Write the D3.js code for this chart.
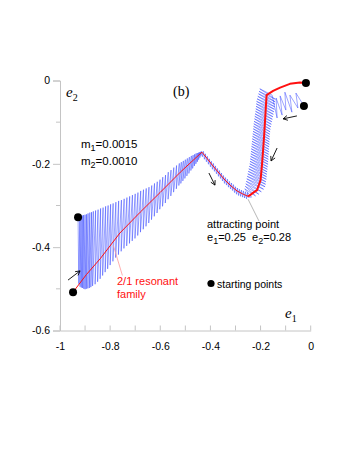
<!DOCTYPE html>
<html>
<head>
<meta charset="utf-8">
<script src="https://cdn.jsdelivr.net/npm/d3@7/dist/d3.min.js"></script>
<style>
  body { margin: 0; background: #fff; }
  text { font-family: "Liberation Sans", Arial, sans-serif; }
  .serif { font-family: "Liberation Serif", "Times New Roman", serif; }
</style>
</head>
<body>
<script>
// tick values
var xTicks = [-1, -0.8, -0.6, -0.4, -0.2, 0];
var yTicks = [0, -0.2, -0.4, -0.6];
var xMinor = [-0.9, -0.7, -0.5, -0.3, -0.1];
var yMinor = [-0.1, -0.3, -0.5];

// starting points (e1, e2)
var startPoints = [[-0.928, -0.328], [-0.948, -0.508], [-0.019, -0.006], [-0.027, -0.061]];

// 2/1 resonant family (red), thin and thick parts
var familyThin = [[-0.948, -0.508], [-0.895, -0.466], [-0.840, -0.428], [-0.761, -0.366], [-0.680, -0.316],
  [-0.601, -0.269], [-0.520, -0.220], [-0.434, -0.172], [-0.412, -0.188], [-0.390, -0.205], [-0.366, -0.222],
  [-0.342, -0.239], [-0.318, -0.253], [-0.294, -0.265], [-0.272, -0.272], [-0.250, -0.278]];
var familyThick = [[-0.250, -0.278], [-0.242, -0.275], [-0.226, -0.268], [-0.214, -0.263], [-0.200, -0.239],
  [-0.194, -0.200], [-0.189, -0.160], [-0.185, -0.125], [-0.182, -0.095], [-0.179, -0.065], [-0.176, -0.035],
  [-0.150, -0.025], [-0.122, -0.017], [-0.083, -0.008], [-0.043, -0.005], [-0.019, -0.006]];

// trajectory from the left starting point
var traj1 = [[-0.928, -0.328],
  [-0.925, -0.488], [-0.921, -0.326], [-0.920, -0.495], [-0.916, -0.325], [-0.915, -0.497], [-0.911, -0.324],
  [-0.910, -0.498], [-0.906, -0.323], [-0.905, -0.500], [-0.900, -0.322], [-0.900, -0.501], [-0.894, -0.321],
  [-0.895, -0.500], [-0.888, -0.319], [-0.889, -0.499], [-0.881, -0.317], [-0.883, -0.498], [-0.874, -0.316],
  [-0.877, -0.496], [-0.867, -0.314],
  [-0.870, -0.493], [-0.858, -0.312], [-0.860, -0.489], [-0.848, -0.310], [-0.850, -0.483], [-0.838, -0.307],
  [-0.840, -0.476], [-0.828, -0.305], [-0.830, -0.468], [-0.818, -0.302], [-0.820, -0.460], [-0.808, -0.300],
  [-0.810, -0.452], [-0.798, -0.297], [-0.800, -0.443], [-0.788, -0.295], [-0.789, -0.434], [-0.777, -0.292],
  [-0.778, -0.425], [-0.766, -0.289], [-0.767, -0.418], [-0.755, -0.287], [-0.756, -0.410], [-0.744, -0.284],
  [-0.745, -0.403], [-0.733, -0.281], [-0.734, -0.397], [-0.722, -0.278], [-0.723, -0.391], [-0.711, -0.275],
  [-0.712, -0.385], [-0.700, -0.272], [-0.701, -0.379], [-0.689, -0.269], [-0.690, -0.372], [-0.678, -0.265],
  [-0.679, -0.364], [-0.667, -0.262], [-0.668, -0.357], [-0.656, -0.259], [-0.657, -0.350], [-0.645, -0.256],
  [-0.646, -0.342], [-0.634, -0.252], [-0.635, -0.334], [-0.623, -0.247], [-0.624, -0.326], [-0.612, -0.243],
  [-0.613, -0.318], [-0.601, -0.238], [-0.602, -0.309], [-0.590, -0.232], [-0.591, -0.302], [-0.579, -0.227],
  [-0.580, -0.294], [-0.568, -0.220], [-0.569, -0.285], [-0.557, -0.215], [-0.558, -0.277], [-0.546, -0.209],
  [-0.547, -0.268], [-0.535, -0.204], [-0.536, -0.260], [-0.524, -0.199], [-0.526, -0.252], [-0.516, -0.196],
  [-0.518, -0.247], [-0.508, -0.193], [-0.510, -0.241], [-0.500, -0.190], [-0.502, -0.235], [-0.492, -0.187],
  [-0.494, -0.229], [-0.484, -0.184], [-0.486, -0.223], [-0.476, -0.181], [-0.478, -0.216], [-0.469, -0.179],
  [-0.471, -0.211], [-0.463, -0.177], [-0.464, -0.205], [-0.457, -0.175], [-0.458, -0.200], [-0.452, -0.174],
  [-0.452, -0.195], [-0.447, -0.173], [-0.447, -0.190], [-0.443, -0.172], [-0.442, -0.185], [-0.439, -0.171],
  [-0.438, -0.180], [-0.435, -0.170],
  [-0.432, -0.183], [-0.428, -0.170], [-0.424, -0.189], [-0.420, -0.176], [-0.416, -0.195], [-0.412, -0.182],
  [-0.408, -0.201], [-0.404, -0.188], [-0.400, -0.207], [-0.396, -0.194], [-0.392, -0.213], [-0.388, -0.199],
  [-0.384, -0.218], [-0.380, -0.205], [-0.376, -0.224], [-0.372, -0.211], [-0.368, -0.230], [-0.364, -0.216],
  [-0.360, -0.235], [-0.356, -0.222], [-0.352, -0.241], [-0.348, -0.228], [-0.344, -0.247], [-0.340, -0.233],
  [-0.336, -0.251], [-0.332, -0.237], [-0.328, -0.256], [-0.324, -0.242], [-0.320, -0.260], [-0.316, -0.246],
  [-0.312, -0.264], [-0.308, -0.250], [-0.304, -0.269], [-0.300, -0.255], [-0.296, -0.273], [-0.292, -0.258],
  [-0.288, -0.276], [-0.284, -0.261], [-0.280, -0.278], [-0.276, -0.263], [-0.272, -0.280], [-0.268, -0.265],
  [-0.264, -0.282], [-0.260, -0.267], [-0.256, -0.284], [-0.252, -0.269], [-0.250, -0.280]];

// trajectory from the lower right starting point
var traj2 = [[-0.027, -0.061],
  [-0.059, -0.030], [-0.051, -0.066], [-0.083, -0.035], [-0.075, -0.076], [-0.103, -0.028], [-0.099, -0.071],
  [-0.122, -0.037], [-0.114, -0.083], [-0.138, -0.042], [-0.134, -0.090], [-0.154, -0.035],
  [-0.203, -0.020], [-0.141, -0.045], [-0.206, -0.026], [-0.142, -0.051], [-0.208, -0.032], [-0.143, -0.057],
  [-0.211, -0.038], [-0.144, -0.063], [-0.214, -0.044], [-0.145, -0.069], [-0.216, -0.050], [-0.147, -0.075],
  [-0.217, -0.056], [-0.149, -0.081], [-0.218, -0.062], [-0.151, -0.087], [-0.219, -0.068], [-0.153, -0.093],
  [-0.220, -0.074], [-0.155, -0.099], [-0.222, -0.080], [-0.157, -0.105], [-0.223, -0.086], [-0.159, -0.111],
  [-0.224, -0.092], [-0.161, -0.117], [-0.226, -0.098], [-0.162, -0.123], [-0.227, -0.104], [-0.163, -0.129],
  [-0.228, -0.110], [-0.164, -0.135], [-0.229, -0.116], [-0.164, -0.141], [-0.230, -0.122], [-0.165, -0.147],
  [-0.231, -0.128], [-0.165, -0.153], [-0.232, -0.134], [-0.166, -0.159], [-0.233, -0.140], [-0.167, -0.165],
  [-0.234, -0.146], [-0.167, -0.171], [-0.235, -0.152], [-0.168, -0.177], [-0.236, -0.158], [-0.169, -0.183],
  [-0.237, -0.164], [-0.169, -0.189], [-0.238, -0.170], [-0.170, -0.195], [-0.239, -0.176], [-0.170, -0.201],
  [-0.240, -0.182], [-0.172, -0.207], [-0.241, -0.188], [-0.173, -0.213], [-0.242, -0.194], [-0.174, -0.219],
  [-0.243, -0.200], [-0.175, -0.225], [-0.245, -0.206], [-0.176, -0.231], [-0.247, -0.212], [-0.177, -0.237],
  [-0.249, -0.218], [-0.179, -0.243], [-0.251, -0.224], [-0.180, -0.249], [-0.253, -0.230], [-0.182, -0.255],
  [-0.255, -0.236], [-0.188, -0.261], [-0.257, -0.242], [-0.197, -0.267], [-0.259, -0.248], [-0.207, -0.273],
  [-0.261, -0.254], [-0.220, -0.277], [-0.263, -0.260], [-0.236, -0.280], [-0.250, -0.280]];

// arrows: [tail, head]
var arrows = [
  [[-0.968, -0.479], [-0.920, -0.457]],
  [[-0.406, -0.222], [-0.382, -0.251]],
  [[-0.055, -0.085], [-0.110, -0.092]],
  [[-0.134, -0.162], [-0.158, -0.193]]
];

var attractor = [-0.25, -0.28];

var width = 354, height = 458;

var x = d3.scaleLinear().domain([-1, 0]).range([60, 310.7]);
var y = d3.scaleLinear().domain([-0.6, 0]).range([330.5, 80.5]);

var svg = d3.select("body").append("svg")
  .attr("width", width)
  .attr("height", height);

var axisColor = "#c4c4c4";

// x axis
var gx = svg.append("g").attr("transform", "translate(0," + y(-0.6) + ")");
gx.call(d3.axisBottom(x).tickValues(xTicks).tickSize(0).tickPadding(12)
  .tickFormat(function (d) { return String(d); }));
gx.select(".domain").attr("stroke", axisColor);
gx.selectAll("text").attr("font-size", 10.5).attr("fill", "#000")
  .attr("font-family", "Liberation Sans, Arial, sans-serif");
gx.selectAll(".tk").data(xTicks.concat(xMinor)).enter().append("line")
  .attr("x1", function (d) { return x(d); }).attr("x2", function (d) { return x(d); })
  .attr("y1", 0).attr("y2", -5).attr("stroke", axisColor);

// y axis
var gy = svg.append("g").attr("transform", "translate(" + x(-1) + ",0)");
gy.call(d3.axisLeft(y).tickValues(yTicks).tickSize(7).tickPadding(3)
  .tickFormat(function (d) { return String(d); }));
gy.select(".domain").attr("stroke", axisColor);
gy.selectAll(".tick line").attr("stroke", axisColor);
gy.selectAll("text").attr("font-size", 10.5).attr("fill", "#000")
  .attr("font-family", "Liberation Sans, Arial, sans-serif");
gy.selectAll(".tk").data(yMinor).enter().append("line")
  .attr("x1", 0).attr("x2", -4)
  .attr("y1", function (d) { return y(d); }).attr("y2", function (d) { return y(d); })
  .attr("stroke", axisColor);

var line = d3.line()
  .x(function (d) { return x(d[0]); })
  .y(function (d) { return y(d[1]); });

// blue trajectories
[traj1, traj2].forEach(function (t) {
  svg.append("path").attr("d", line(t))
    .attr("fill", "none").attr("stroke", "#1f30ff")
    .attr("stroke-width", 0.55).attr("stroke-opacity", 0.8)
    .attr("stroke-linejoin", "round");
});

// red family
svg.append("path").attr("d", line(familyThin))
  .attr("fill", "none").attr("stroke", "#ff1010").attr("stroke-width", 1)
  .attr("stroke-linejoin", "round");
svg.append("path").attr("d", line(familyThick))
  .attr("fill", "none").attr("stroke", "#ff1010").attr("stroke-width", 2)
  .attr("stroke-linejoin", "round");

// pointer lines
svg.append("line")
  .attr("x1", x(attractor[0])).attr("y1", y(attractor[1]) + 2)
  .attr("x2", x(attractor[0]) + 11).attr("y2", y(attractor[1]) + 24)
  .attr("stroke", "#999").attr("stroke-width", 0.7);
svg.append("line")
  .attr("x1", x(-0.787)).attr("y1", y(-0.396))
  .attr("x2", x(-0.787) + 9).attr("y2", y(-0.396) + 30)
  .attr("stroke", "#ff9a9a").attr("stroke-width", 0.8);

// arrows
arrows.forEach(function (a) {
  var x1 = x(a[0][0]), y1 = y(a[0][1]), x2 = x(a[1][0]), y2 = y(a[1][1]);
  var ang = Math.atan2(y2 - y1, x2 - x1);
  var h = 5, s = 0.5;
  svg.append("line").attr("x1", x1).attr("y1", y1).attr("x2", x2).attr("y2", y2)
    .attr("stroke", "#000").attr("stroke-width", 0.9);
  svg.append("path")
    .attr("d", "M" + (x2 - h * Math.cos(ang - s)) + "," + (y2 - h * Math.sin(ang - s)) +
      "L" + x2 + "," + y2 +
      "L" + (x2 - h * Math.cos(ang + s)) + "," + (y2 - h * Math.sin(ang + s)))
    .attr("fill", "none").attr("stroke", "#000").attr("stroke-width", 0.9);
});

// starting points
svg.selectAll(".start").data(startPoints).enter().append("circle")
  .attr("cx", function (d) { return x(d[0]); })
  .attr("cy", function (d) { return y(d[1]); })
  .attr("r", 4).attr("fill", "#000");

// legend
svg.append("circle").attr("cx", 211).attr("cy", 283.5).attr("r", 3.6).attr("fill", "#000");
svg.append("text").attr("x", 217).attr("y", 287.5).attr("font-size", 10.5).text("starting points");

// texts
svg.append("text").attr("class", "serif").attr("x", 173).attr("y", 96).attr("font-size", 14).text("(b)");

var e2 = svg.append("text").attr("class", "serif").attr("x", 66).attr("y", 97).attr("font-size", 15);
e2.append("tspan").attr("font-style", "italic").text("e");
e2.append("tspan").attr("font-size", 10).attr("dy", 4).text("2");

var e1 = svg.append("text").attr("class", "serif").attr("x", 285).attr("y", 318).attr("font-size", 15);
e1.append("tspan").attr("font-style", "italic").text("e");
e1.append("tspan").attr("font-size", 10).attr("dy", 4).text("1");

var m1 = svg.append("text").attr("x", 81).attr("y", 148).attr("font-size", 11.5);
m1.append("tspan").text("m");
m1.append("tspan").attr("font-size", 9).attr("dy", 3).text("1");
m1.append("tspan").attr("dy", -3).text("=0.0015");

var m2 = svg.append("text").attr("x", 81).attr("y", 165).attr("font-size", 11.5);
m2.append("tspan").text("m");
m2.append("tspan").attr("font-size", 9).attr("dy", 3).text("2");
m2.append("tspan").attr("dy", -3).text("=0.0010");

svg.append("text").attr("x", 207).attr("y", 228).attr("font-size", 11).text("attracting point");
var ap = svg.append("text").attr("x", 207).attr("y", 241).attr("font-size", 11)
  .style("white-space", "pre");
ap.append("tspan").text("e");
ap.append("tspan").attr("font-size", 9).attr("dy", 3).text("1");
ap.append("tspan").attr("dy", -3).text("=0.25  e");
ap.append("tspan").attr("font-size", 9).attr("dy", 3).text("2");
ap.append("tspan").attr("dy", -3).text("=0.28");

svg.append("text").attr("x", 117).attr("y", 285).attr("font-size", 11).attr("fill", "#ff1010").text("2/1 resonant");
svg.append("text").attr("x", 117).attr("y", 298).attr("font-size", 11).attr("fill", "#ff1010").text("family");
</script>
</body>
</html>
